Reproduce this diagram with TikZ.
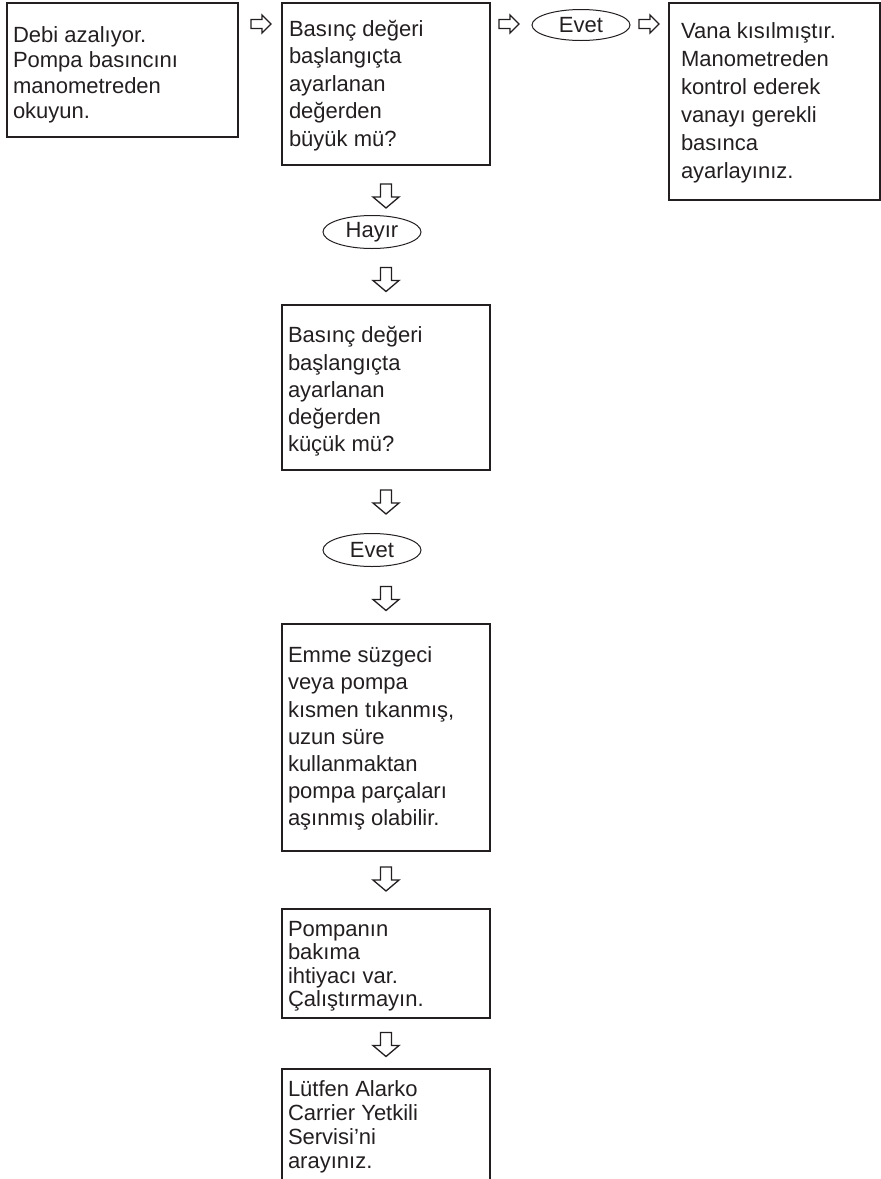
\documentclass[tikz,border=0pt]{standalone}
\usepackage{fontspec}
\setmainfont{Liberation Sans}
\usetikzlibrary{shapes.geometric}
\definecolor{ink}{HTML}{231F20}
\tikzset{
  box/.style={draw=ink, line width=1.2pt, inner sep=0pt, outer sep=0pt, anchor=north west, minimum width=208pt},
  txt/.style={anchor=base west, inner sep=0pt, outer sep=0pt, align=left, text=ink, font=\fontsize{22}{#1}\selectfont},
  txt/.default=27,
  oval/.style={draw=ink, ellipse, line width=1pt, inner sep=0pt, minimum width=98pt, minimum height=33pt, text=ink, font=\fontsize{22}{26}\selectfont},
  rarr/.pic={\draw[ink, line width=1.3pt, line join=miter] (-10,-4.5) -- (1,-4.5) -- (1,-9) -- (10,0) -- (1,9) -- (1,4.5) -- (-10,4.5) -- cycle;},
  darr/.pic={\draw[ink, line width=1.3pt, line join=miter] (-5.5,-12) -- (5.5,-12) -- (5.5,1) -- (13,1) -- (0,12) -- (-13,1) -- (-5.5,1) -- cycle;}
}
\begin{document}
\begin{tikzpicture}[x=1pt, y=-1pt]
\useasboundingbox (0,0) rectangle (881,1179);
\clip (0,0) rectangle (881,1179);
% boxes
\node[box, minimum width=231pt, minimum height=134pt] (b1) at (7,3) {};
\node[box, minimum height=162pt] (b2) at (282,3) {};
\node[box, minimum width=211pt, minimum height=197pt] (b4) at (669,3) {};
\node[box, minimum height=165pt] (b3) at (282,305) {};
\node[box, minimum height=227pt] (b5) at (282,624) {};
\node[box, minimum height=109pt] (b6) at (282,909) {};
\node[box, minimum height=125pt] (b7) at (282,1069) {};
% texts (anchored at the baseline of the last line)
\node[txt=25.3] (t1) at (13,118.4) {Debi azalıyor.\\Pompa basıncını\\manometreden\\okuyun.};
\node[txt=27.5] (t2) at (289,146) {Basınç değeri\\başlangıçta\\ayarlanan\\değerden\\büyük mü?};
\node[txt=28] (t4) at (681,178.3) {Vana kısılmıştır.\\Manometreden\\kontrol ederek\\vanayı gerekli\\basınca\\ayarlayınız.};
\node[txt=27.3] (t3) at (288,451.9) {Basınç değeri\\başlangıçta\\ayarlanan\\değerden\\küçük mü?};
\node[txt=27.2] (t5) at (288,825.9) {Emme süzgeci\\veya pompa\\kısmen tıkanmış,\\uzun süre\\kullanmaktan\\pompa parçaları\\aşınmış olabilir.};
\node[txt=23.5] (t6) at (288,1006.5) {Pompanın\\bakıma\\ihtiyacı var.\\Çalıştırmayın.};
\node[txt=24] (t7) at (288,1168.7) {Lütfen Alarko\\Carrier Yetkili\\Servisi’ni\\arayınız.};
% ovals
\node[oval, minimum height=31pt] (e1) at (581,25) {Evet};
\node[oval] (h1) at (372,232) {Hayır};
\node[oval] (e2) at (372,550) {Evet};
% arrows
\coordinate (r1) at (261,24);
\coordinate (r2) at (509,24);
\coordinate (r3) at (649,24);
\coordinate (d1) at (386,196);
\coordinate (d2) at (386,279.5);
\coordinate (d3) at (386,502);
\coordinate (d4) at (386,598.5);
\coordinate (d5) at (386,879);
\coordinate (d6) at (386,1044.5);
\foreach \c in {r1,r2,r3} \pic at (\c) {rarr};
\foreach \c in {d1,d2,d3,d4,d5,d6} \pic at (\c) {darr};
\end{tikzpicture}
\end{document}
